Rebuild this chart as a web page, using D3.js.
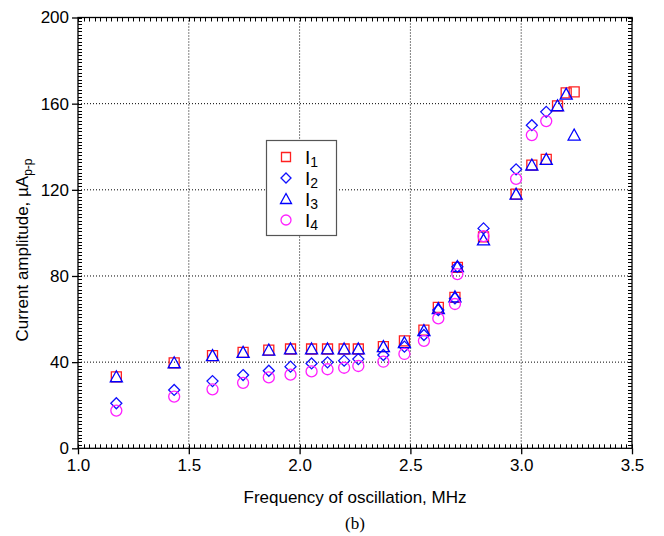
<!DOCTYPE html>
<html>
<head>
<meta charset="utf-8">
<script src="https://cdn.jsdelivr.net/npm/d3@7/dist/d3.min.js"></script>
<style>
  html, body { margin: 0; padding: 0; background: #fff; }
  svg { display: block; }
  text { font-family: "Liberation Sans", Arial, sans-serif; fill: #000; }
</style>
</head>
<body>
<svg id="chart" width="664" height="536"></svg>
<script>
// Frequency of oscillation (MHz) for each measurement
const freq = [1.173, 1.434, 1.607, 1.745, 1.861, 1.959, 2.054, 2.126, 2.201, 2.265,
              2.378, 2.473, 2.561, 2.626, 2.701, 2.712, 2.830, 2.977, 3.048, 3.113,
              3.164, 3.203, 3.239];

// Current amplitudes, µA p-p (null = not measured)
const I1 = [33.2, 39.7, 43.0, 44.5, 45.6, 46.1, 46.1, 46.1, 46.1, 46.1,
            47.2, 49.9, 54.9, 65.4, 70.1, 84.0, 98.2, 118.0, 131.5, 134.1,
            159.0, 165.0, 165.5];
const I2 = [20.9, 27.1, 31.2, 34.0, 36.0, 37.9, 39.4, 39.9, 40.7, 41.4,
            43.3, 47.2, 52.6, 64.2, 69.6, 84.3, 102.1, 129.5, 150.0, 156.2,
            null, null, null];
const I3 = [33.2, 39.7, 43.0, 44.5, 45.6, 46.1, 46.1, 46.1, 46.1, 46.1,
            47.2, 49.0, 54.6, 64.8, 70.3, 84.3, 96.7, 118.0, 131.5, 134.1,
            159.0, 164.4, 145.4];
const I4 = [17.5, 24.0, 27.4, 30.4, 32.9, 34.2, 35.7, 36.7, 37.4, 38.2,
            40.2, 43.8, 49.9, 60.3, 67.0, 80.9, 98.5, 125.1, 145.4, 151.9,
            null, null, null];

const seriesNames = ["1", "2", "3", "4"];
const xTicks = [1.0, 1.5, 2.0, 2.5, 3.0, 3.5];
const yTicks = [0, 40, 80, 120, 160, 200];

const svg = d3.select("#chart");
const L = 78, R = 632, T = 17.5, B = 448.3;

const x = d3.scaleLinear().domain([1.0, 3.5]).range([L, R]);
const y = d3.scaleLinear().domain([0, 200]).range([B, T]);

// dotted grid at interior major ticks
const grid = svg.append("g").attr("stroke", "#000").attr("stroke-width", 1)
  .attr("stroke-dasharray", "1,2");
xTicks.filter(t => t > 1.0 && t < 3.5).forEach(t => {
  grid.append("line").attr("x1", x(t)).attr("x2", x(t)).attr("y1", T).attr("y2", B);
});
yTicks.filter(t => t > 0 && t < 200).forEach(t => {
  grid.append("line").attr("x1", L).attr("x2", R).attr("y1", y(t)).attr("y2", y(t));
});

// minor ticks, pointing inward on all four sides
const minor = svg.append("g").attr("stroke", "#000").attr("stroke-width", 1);
const xMinor = d3.range(0, 101).map(i => 1.0 + i * 0.025);
xMinor.forEach(t => {
  const px = Math.round(x(t)) + 0.5;
  minor.append("line").attr("x1", px).attr("x2", px).attr("y1", B).attr("y2", B - 4);
  minor.append("line").attr("x1", px).attr("x2", px).attr("y1", T).attr("y2", T + 4);
});
const yMinor = d3.range(0, 126).map(i => i * 1.6);
yMinor.forEach(t => {
  const py = Math.round(y(t)) + 0.5;
  minor.append("line").attr("x1", L).attr("x2", L + 4).attr("y1", py).attr("y2", py);
  minor.append("line").attr("x1", R).attr("x2", R - 4).attr("y1", py).attr("y2", py);
});

// frame
svg.append("rect").attr("x", L).attr("y", T).attr("width", R - L).attr("height", B - T)
  .attr("fill", "none").attr("stroke", "#000").attr("stroke-width", 1.3);

// axes with outward major ticks
const xAxis = d3.axisBottom(x).tickValues(xTicks).tickFormat(d3.format(".1f"))
  .tickSizeOuter(0).tickSizeInner(6).tickPadding(5);
const gx = svg.append("g").attr("transform", `translate(0,${B})`).call(xAxis);
gx.select(".domain").remove();
gx.selectAll("text").style("font-size", "17px").attr("font-family", null);
gx.selectAll("line").attr("stroke-width", 1.3);

const yAxis = d3.axisLeft(y).tickValues(yTicks).tickSizeOuter(0).tickSizeInner(6).tickPadding(3);
const gy = svg.append("g").attr("transform", `translate(${L},0)`).call(yAxis);
gy.select(".domain").remove();
gy.selectAll("text").style("font-size", "17px").attr("font-family", null);
gy.selectAll("line").attr("stroke-width", 1.3);

// axis titles
svg.append("text").attr("x", (L + R) / 2).attr("y", 503).attr("text-anchor", "middle")
  .style("font-size", "17px").text("Frequency of oscillation, MHz");
svg.append("text").attr("x", (L + R) / 2).attr("y", 529).attr("text-anchor", "middle")
  .style("font-family", "'Liberation Serif', 'Times New Roman', serif").style("font-size", "17px")
  .text("(b)");
const yt = svg.append("text").attr("transform", `translate(28,250) rotate(-90)`)
  .attr("text-anchor", "middle").style("font-size", "17px");
yt.append("tspan").text("Current amplitude, \u00b5A");
yt.append("tspan").attr("dy", 4).style("font-size", "12px").text("p-p");

// marker shapes
const shapes = {
  square: s => `M${-s/2},${-s/2}h${s}v${s}h${-s}Z`,
  diamond: s => `M0,${-s/2}L${s/2},0L0,${s/2}L${-s/2},0Z`,
  triangle: s => `M0,${-s*0.55}L${s*0.55},${s*0.45}L${-s*0.55},${s*0.45}Z`,
  circle: s => `M${s/2},0A${s/2},${s/2} 0 1 1 ${-s/2},0A${s/2},${s/2} 0 1 1 ${s/2},0Z`
};
const series = [
  { name: "1", values: I1, shape: "square", size: 10, color: "#ff2020" },
  { name: "2", values: I2, shape: "diamond", size: 11, color: "#1010ff" },
  { name: "3", values: I3, shape: "triangle", size: 11, color: "#0000ff" },
  { name: "4", values: I4, shape: "circle", size: 11, color: "#ff20ff" }
];

series.forEach(s => {
  const pts = freq.map((f, i) => ({ f, v: s.values[i] })).filter(d => d.v != null);
  svg.append("g").selectAll("path").data(pts).join("path")
    .attr("transform", d => `translate(${x(d.f)},${y(d.v)})`)
    .attr("d", shapes[s.shape](s.size))
    .attr("fill", "none").attr("stroke", s.color).attr("stroke-width", 1.3);
});

// legend
const lg = svg.append("g");
lg.append("rect").attr("x", 266.5).attr("y", 140.5).attr("width", 70).attr("height", 95)
  .attr("fill", "#fff").attr("stroke", "#555").attr("stroke-width", 1.2);
series.forEach((s, i) => {
  const cy = 157 + i * 21;
  lg.append("path").attr("transform", `translate(286,${cy})`)
    .attr("d", shapes[s.shape](s.size - 1))
    .attr("fill", "none").attr("stroke", s.color).attr("stroke-width", 1.3);
  const t = lg.append("text").attr("x", 305).attr("y", cy + 7).style("font-size", "19px");
  t.append("tspan").text("I");
  t.append("tspan").attr("dy", 3).style("font-size", "14px").text(seriesNames[i]);
});
</script>
</body>
</html>
